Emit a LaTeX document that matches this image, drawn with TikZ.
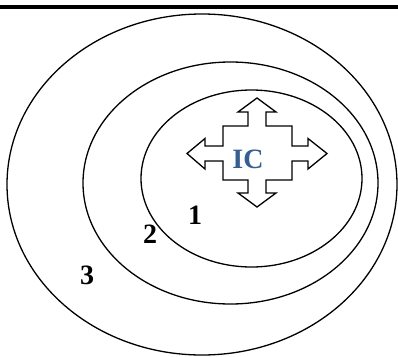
\documentclass[tikz,border=0pt]{standalone}
\usepackage{fontspec}
\setmainfont{Liberation Serif}
\definecolor{icblue}{HTML}{365F91}
\begin{document}
\begin{tikzpicture}[x=1pt,y=-1pt,
  ring/.style={draw=black,line width=1.3pt},
  lbl/.style={font=\fontsize{28}{30}\selectfont\bfseries,inner sep=0pt},
  arrowshape/.style={draw=black,fill=white,line width=1.3pt,line join=miter}]
\useasboundingbox (0,0) rectangle (398,356);
\fill[black] (0,5) rectangle (398,9);
\draw[ring] (202,184.5) ellipse [x radius=195,y radius=170.5];
\draw[ring] (230.5,183) ellipse [x radius=147.5,y radius=121];
\draw[ring] (251.5,178.5) ellipse [x radius=110.5,y radius=88.5];
\draw[arrowshape] (257,98) -- (276,112) -- (266,112) -- (266,126) -- (292,126) -- (292,146)
  -- (308,146) -- (308,138.5) -- (327,153.5) -- (308,169) -- (308,161) -- (292,161)
  -- (292,180) -- (266,180) -- (266,193) -- (276,193) -- (257,207) -- (238,193)
  -- (248,193) -- (248,180) -- (223,180) -- (223,161) -- (205,161) -- (205,169)
  -- (187,153.5) -- (205,138.5) -- (205,146) -- (223,146) -- (223,126) -- (248,126)
  -- (248,112) -- (238,112) -- cycle;
\node[lbl,text=icblue] (ic) at (248,159) {IC};
\node[lbl] (n1) at (195,215) {1};
\node[lbl] (n2) at (150,234) {2};
\node[lbl] (n3) at (87,275) {3};
\end{tikzpicture}
\end{document}
